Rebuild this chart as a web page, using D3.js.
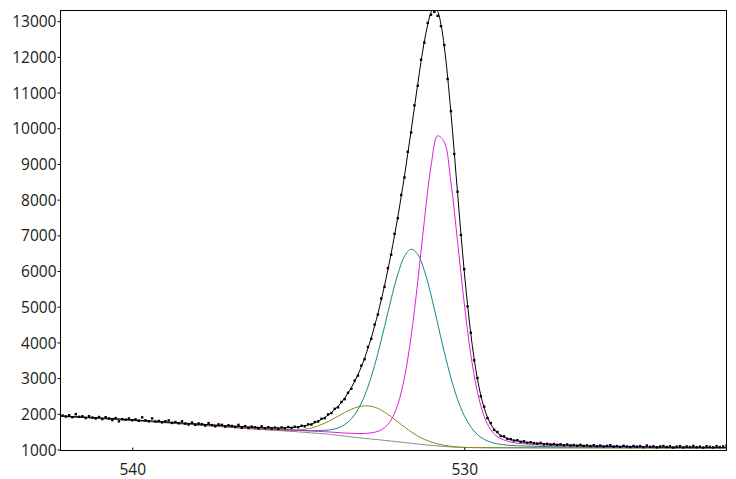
<!DOCTYPE html>
<html><head><meta charset="utf-8">
<script src="https://cdn.jsdelivr.net/npm/d3@7"></script>
<style>html,body{margin:0;padding:0;background:#fff;}svg{display:block;}</style>
</head><body><svg id="c" width="736" height="479"></svg>
<script>
// ---- tick labels ----
const xTicks = [540, 530];
const yTicks = [1000,2000,3000,4000,5000,6000,7000,8000,9000,10000,11000,12000,13000];

// ---- component curves (binding energy, counts incl. background) ----
const curveEnergy = [542.2,541,540,539,538,537,536,535.5,535,534.6,534.2,534.0,533.8,533.6,533.4,533.2,533.0,532.8,532.6,532.4,532.2,532.0,531.8,531.6,531.4,531.2,531.0,530.8,530.6,530.4,530.2,530.0,529.8,529.6,529.4,529.2,529.0,528.6,528.2,527.8,527.4,527,526,525,524,523,522.1];
const background = [1930,1872,1815,1752,1685,1620,1555,1525,1495,1466,1438,1420,1397,1376,1355,1333,1312,1295,1275,1255,1235,1215,1195,1175,1155,1135,1118,1100,1085,1072,1062,1056,1053,1052,1051,1050,1050,1049,1049,1048,1048,1048,1046,1044,1042,1040,1038];
const oliveComp = [1930,1872,1815,1752,1685,1620,1557,1536,1546,1602,1737,1830,1930,2035,2128,2194,2223,2211,2150,2048,1918,1773,1629,1495,1379,1284,1212,1156,1117,1089,1071,1060,1055,1052,1051,1050,1050,1049,1049,1048,1048,1048,1046,1044,1042,1040,1038];
const tealComp = [1935,1879,1823,1762,1699,1639,1584,1561,1542,1529,1537,1558,1602,1695,1859,2121,2507,3037,3695,4445,5217,5910,6408,6611,6469,6011,5328,4530,3729,3005,2407,1952,1631,1418,1285,1205,1158,1115,1098,1087,1080,1075,1064,1057,1052,1048,1045];
const magentaComp = [1936,1879,1824,1763,1699,1639,1582,1557,1535,1515,1498,1487,1473,1462,1454,1448,1449,1467,1508,1608,1828,2260,3013,4168,5701,7417,8941,9788,9611,8481,6822,5103,3650,2599,1932,1554,1358,1208,1159,1131,1113,1100,1079,1067,1058,1052,1048];

// ---- envelope (fit sum) ----
const envEnergy = [542.2,541,540,539,538,537,536.0,535.9,535.8,535.7,535.6,535.5,535.4,535.3,535.2,535.1,535.0,534.9,534.8,534.7,534.6,534.5,534.4,534.3,534.2,534.1,534.0,533.9,533.8,533.7,533.6,533.5,533.4,533.3,533.2,533.1,533.0,532.9,532.8,532.7,532.6,532.5,532.4,532.3,532.2,532.1,532.0,531.9,531.8,531.7,531.6,531.5,531.4,531.3,531.2,531.1,531.0,530.9,530.8,530.7,530.6,530.5,530.4,530.3,530.2,530.1,530.0,529.9,529.8,529.7,529.6,529.5,529.4,529.3,529.2,529.1,529.0,528.9,528.8,528.7,528.6,528.5,528.4,528.3,528.2,528.1,528.0,527.4,527,526,525,524,523,522.1];
const envCounts = [1941,1886,1832,1773,1713,1658,1613,1611,1609,1607,1605,1604,1607,1612,1618,1625,1633,1650,1668,1690,1714,1751,1792,1842,1896,1964,2035,2120,2211,2322,2440,2580,2731,2910,3097,3318,3555,3835,4125,4460,4803,5190,5591,6035,6493,6995,7513,8080,8660,9290,9924,10590,11239,11870,12442,12900,13245,13379,13274,12910,12287,11442,10431,9322,8176,7055,6003,5056,4230,3533,2965,2514,2166,1905,1709,1570,1466,1395,1345,1308,1274,1258,1242,1225,1208,1198,1189,1145,1127,1097,1080,1068,1060,1055];

// ---- measured spectrum points [binding energy, counts] ----
const rawPoints = [
[542.1,1950],[542.0,1925],[541.9,1960],[541.8,1905],[541.7,1990],[541.6,1915],[541.5,1930],[541.4,1880],[541.3,1935],[541.2,1895],
[541.1,1870],[541.0,1910],[540.9,1850],[540.8,1905],[540.7,1870],[540.6,1825],[540.5,1880],[540.4,1790],[540.3,1850],[540.2,1835],
[540.1,1870],[540.0,1820],[539.9,1845],[539.8,1805],[539.7,1900],[539.6,1820],[539.5,1790],[539.4,1870],[539.3,1785],[539.2,1800],
[539.1,1760],[539.0,1790],[538.9,1815],[538.8,1745],[538.7,1770],[538.6,1735],[538.5,1790],[538.4,1725],[538.3,1700],[538.2,1755],
[538.1,1690],[538.0,1730],[537.9,1710],[537.8,1670],[537.7,1740],[537.6,1685],[537.5,1650],[537.4,1705],[537.3,1690],[537.2,1640],
[537.1,1680],[537.0,1660],[536.9,1630],[536.8,1690],[536.7,1610],[536.6,1655],[536.5,1600],[536.4,1640],[536.3,1625],[536.2,1590],
[536.1,1650],
[536.0,1600],[535.9,1625],[535.8,1590],[535.7,1615],[535.6,1580],[535.5,1620],[535.4,1595],[535.3,1630],[535.2,1605],[535.1,1640],
[535.0,1625],[534.9,1665],[534.8,1650],[534.7,1705],[534.6,1700],[534.5,1770],[534.4,1785],[534.3,1860],[534.2,1880],[534.1,1985],
[534.0,2020],[533.9,2140],[533.8,2180],[533.7,2330],[533.6,2410],[533.5,2590],[533.4,2700],[533.3,2930],[533.2,3070],[533.1,3350],
[533.0,3530],[532.9,3870],[532.8,4100],[532.7,4500],[532.6,4780],[532.5,5230],[532.4,5560],[532.3,6080],[532.2,6460],[532.1,7040],
[532.0,7480],[531.9,8130],[531.8,8620],[531.7,9340],[531.6,9880],[531.5,10640],[531.4,11190],[531.3,11920],[531.2,12400],[531.1,12950],
[531.0,13180],[530.9,13260],[530.8,13150],[530.7,12860],[530.6,12330],[530.5,11380],[530.4,10480],[530.3,9280],[530.2,8220],[530.1,7010],
[530.0,6050],[529.9,5010],[529.8,4270],[529.7,3500],[529.6,3000],[529.5,2490],[529.4,2200],[529.3,1880],[529.2,1740],[529.1,1550],
[529.0,1490],[528.9,1380],[528.8,1370],[528.7,1300],[528.6,1290],[528.5,1250],[528.4,1260],[528.3,1215],[528.2,1230],[528.1,1190],
[528.0,1205],
[527.9,1180],[527.8,1165],[527.7,1185],[527.6,1150],[527.5,1160],[527.4,1140],[527.3,1155],[527.2,1130],[527.1,1145],[527.0,1120],
[526.9,1140],[526.8,1115],[526.7,1125],[526.6,1105],[526.5,1130],[526.4,1100],[526.3,1115],[526.2,1095],[526.1,1120],[526.0,1090],
[525.9,1110],[525.8,1085],[525.7,1100],[525.6,1120],[525.5,1080],[525.4,1095],[525.3,1075],[525.2,1105],[525.1,1085],[525.0,1070],
[524.9,1100],[524.8,1080],[524.7,1095],[524.6,1065],[524.5,1110],[524.4,1075],[524.3,1090],[524.2,1060],[524.1,1085],[524.0,1100],
[523.9,1070],[523.8,1090],[523.7,1055],[523.6,1080],[523.5,1095],[523.4,1060],[523.3,1085],[523.2,1070],[523.1,1100],[523.0,1065],
[522.9,1080],[522.8,1055],[522.7,1090],[522.6,1075],[522.5,1060],[522.4,1095],[522.3,1070],[522.2,1085],[522.1,1110]
];

// ---- layout ----
const W = 736, H = 479;
const L = 60.5, R = 726.5, T = 10.5, B = 450.5;
const xDomain = [542.16, 522.1];
const yDomain = [972, 13299];

const svg = d3.select('#c');
const x = d3.scaleLinear().domain(xDomain).range([L, R]);
const y = d3.scaleLinear().domain(yDomain).range([B, T]);

svg.append('defs').append('clipPath').attr('id','plotclip')
  .append('rect').attr('x', L).attr('y', T).attr('width', R - L).attr('height', B - T);

const g = svg.append('g').attr('clip-path','url(#plotclip)');

function drawCurve(xs, ys, color, curve) {
  const pts = xs.map((e, i) => [e, ys[i]]);
  const line = d3.line().x(d => x(d[0])).y(d => y(d[1])).curve(curve);
  g.append('path').datum(pts).attr('d', line)
    .attr('fill','none').attr('stroke', color).attr('stroke-width', 1);
}
const cr = d3.curveCatmullRom.alpha(0.5);
drawCurve(curveEnergy, background, '#8c8c8c', cr);
drawCurve(curveEnergy, oliveComp, '#8b8b14', cr);
drawCurve(curveEnergy, tealComp, '#0f8a8a', cr);
drawCurve(curveEnergy, magentaComp, '#dc1edc', cr);
drawCurve(envEnergy, envCounts, '#000000', cr);

g.selectAll('rect.pt').data(rawPoints).enter().append('rect')
  .attr('class','pt')
  .attr('x', d => x(d[0]) - 1.2).attr('y', d => y(d[1]) - 1.2)
  .attr('width', 2.4).attr('height', 2.4).attr('fill', '#000');

// frame
svg.append('rect').attr('x', L).attr('y', T).attr('width', R - L).attr('height', B - T)
  .attr('fill','none').attr('stroke','#000').attr('stroke-width',1);

// axes
const font = '"Open Sans", "Noto Sans", sans-serif';
const yAxis = d3.axisLeft(y).tickValues(yTicks).tickSize(3).tickPadding(1).tickFormat(d3.format('d'));
const ya = svg.append('g').attr('transform', `translate(${L},0)`).call(yAxis);
ya.select('.domain').remove();
ya.selectAll('line').attr('stroke','#000');
ya.selectAll('text').attr('font-family', font).attr('font-size', '15.5px').attr('fill', '#1a1a1a').attr('dy','0.36em');

const xAxis = d3.axisBottom(x).tickValues(xTicks).tickSize(-3).tickPadding(0).tickFormat(d3.format('d'));
const xa = svg.append('g').attr('transform', `translate(0,${B})`).call(xAxis);
xa.select('.domain').remove();
xa.selectAll('line').attr('stroke','#000');
xa.selectAll('text').attr('font-family', font).attr('font-size', '15.5px').attr('fill', '#1a1a1a')
  .attr('dy', null).attr('y', 24.5);
</script></body></html>
